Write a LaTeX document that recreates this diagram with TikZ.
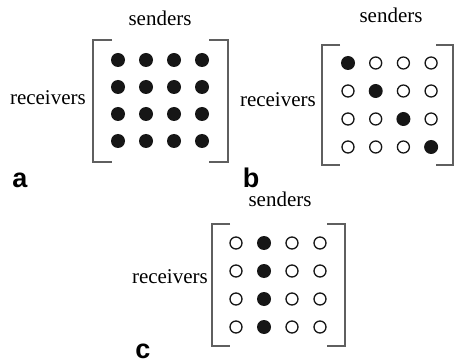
\documentclass[tikz,border=0pt]{standalone}
\usepackage{fontspec}
\setmainfont{Liberation Serif}
\newfontfamily\panelfont{Liberation Sans}
\usepackage{tikz}
\usetikzlibrary{positioning}
\definecolor{dotcolor}{RGB}{22,22,22}
\definecolor{bracketcolor}{RGB}{95,95,95}

\begin{document}
\begin{tikzpicture}[
    x=1pt, y=-1pt,
    full/.style={circle, fill=dotcolor, inner sep=0pt, minimum size=14pt},
    empty/.style={circle, draw=dotcolor, line width=1.3pt, fill=white, inner sep=0pt, minimum size=12pt},
    bracket/.style={draw=bracketcolor, line width=1.4pt},
    axis/.style={font=\fontsize{21}{25}\selectfont, inner sep=0pt},
    panel/.style={font=\panelfont\fontsize{27}{30}\selectfont\bfseries, inner sep=0pt, anchor=base}
]
    \useasboundingbox (0,0) rectangle (457,363);

    % Panel a: every receiver hears every sender
    \foreach \r in {1,...,4}
        \foreach \c in {1,...,4}
            \node[full] (a-\r-\c) at ({118+28*(\c-1)}, {60+27*(\r-1)}) {};
    \draw[bracket] (112,40) -- (93,40) -- (93,162) -- (112,162);
    \draw[bracket] (209,40) -- (228,40) -- (228,162) -- (209,162);
    \node[axis, anchor=base] (sendA) at (160,26) {senders};
    \node[axis, anchor=base east] (recvA) at (86,105) {receivers};
    \node[panel] (labA) at (20,188) {a};

    % Panel b: diagonal only
    \foreach \r in {1,...,4}
        \foreach \c in {1,...,4} {
            \ifnum\r=\c \def\kind{full}\else\def\kind{empty}\fi
            \node[\kind] (b-\r-\c) at ({348+27.7*(\c-1)}, {63+28*(\r-1)}) {};
        }
    \draw[bracket] (340,45) -- (322,45) -- (322,165) -- (340,165);
    \draw[bracket] (436,45) -- (453,45) -- (453,165) -- (436,165);
    \node[axis, anchor=base] (sendB) at (391,23) {senders};
    \node[axis, anchor=base east] (recvB) at (316,107) {receivers};
    \node[panel] (labB) at (251,188) {b};

    % Panel c: one sender to all receivers
    \foreach \r in {1,...,4}
        \foreach \c in {1,...,4} {
            \ifnum\c=2 \def\kind{full}\else\def\kind{empty}\fi
            \node[\kind] (c-\r-\c) at ({236+28*(\c-1)}, {243+28*(\r-1)}) {};
        }
    \draw[bracket] (230,224) -- (212,224) -- (212,346) -- (230,346);
    \draw[bracket] (327,224) -- (345,224) -- (345,346) -- (327,346);
    \node[axis, anchor=base] (sendC) at (280,207) {senders};
    \node[axis, anchor=base east] (recvC) at (208,283) {receivers};
    \node[panel] (labC) at (143,358) {c};
\end{tikzpicture}
\end{document}
